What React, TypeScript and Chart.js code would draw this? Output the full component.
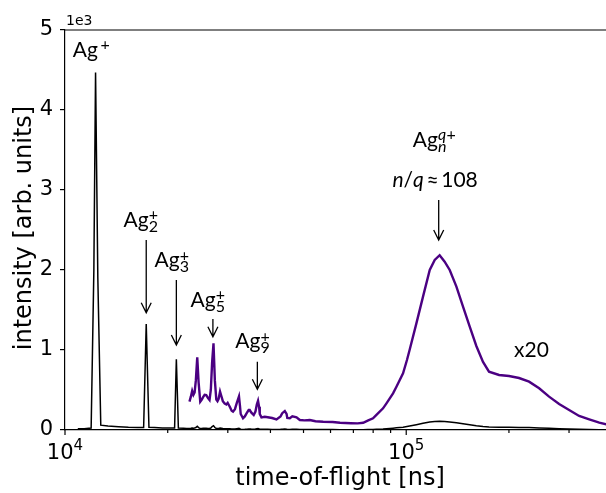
import React, { useEffect, useRef } from 'react';
import { Chart, registerables } from 'chart.js';

Chart.register(...registerables);

// ---- data ----
// full-scale spectrum, early part (time-of-flight in ns, intensity)
const rawTof = [10900, 11380, 11930, 12150, 12290, 12480, 12730, 13360, 14350, 15340, 16320, 17000, 17300, 17620, 18290, 19280, 20260, 20950, 21200, 21490, 22230, 22720];
const rawIntensity = [15, 15, 25, 2000, 4470, 1900, 60, 50, 42, 35, 32, 30, 1325, 35, 30, 25, 25, 25, 885, 25, 22, 20];

// magnified part (already multiplied by ZOOM_FACTOR as shown in purple)
const zoomTof = [23160, 23390, 23590, 23790, 23980, 24180, 24410, 24630, 24910, 25170, 25390, 25660, 25940, 26250, 26520, 26750, 26990, 27240, 27490, 27760, 27980, 28200, 28470, 28720, 29010, 29370, 29710, 29970, 30400, 30790, 31070, 31480, 31880, 32350, 32570, 32730, 33240, 33650, 34080, 34540, 34780, 35130, 35730, 36150, 36500, 36790, 37050, 37220, 37650, 38480, 39280, 40450, 41660, 42820, 43320, 44070, 44600, 44820, 45590, 46370, 47700, 48780, 50300, 52170, 54200, 57100, 60860, 63970, 68880, 72050, 74780, 77120, 79930, 81790, 85530, 87520, 91490, 93610, 97880, 100500, 102300, 107100, 112000, 117200, 121200, 125300, 129600, 134100, 140300, 146700, 153500, 160500, 167900, 174800, 187100, 200100, 214100, 229100, 245200, 262200, 280600, 300200, 321200, 343800, 367900, 387000];
const zoomIntensity = [354, 420, 490, 440, 470, 620, 910, 600, 354, 380, 410, 440, 437, 400, 375, 500, 850, 1083, 620, 380, 360, 390, 480, 425, 360, 330, 320, 340, 290, 240, 229, 260, 340, 420, 300, 200, 146, 170, 210, 250, 250, 220, 187, 230, 320, 366, 290, 200, 158, 165, 160, 150, 133, 170, 210, 237, 200, 150, 146, 170, 158, 125, 120, 125, 110, 104, 100, 90, 85, 83, 90, 117, 146, 190, 271, 333, 458, 540, 708, 875, 1000, 1333, 1667, 2000, 2125, 2185, 2104, 2000, 1792, 1542, 1292, 1050, 850, 729, 688, 675, 650, 604, 521, 417, 325, 250, 175, 133, 92, 71];
const ZOOM_FACTOR = 20;

// axis ranges / ticks
const X_MIN = 10000;
const X_MAX = 385000;
const Y_MIN = 0;
const Y_MAX = 5000;
const Y_STEP = 1000;
const Y_OFFSET_TEXT = '1e3';

// cluster labels (left edge tof, baseline intensity, subscript)
const clusterLabelTof = [10540, 14846, 18300, 23335, 31560];
const clusterLabelY = [4666, 2541, 2034, 1541, 1021];
const clusterLabelSub = ['', '2', '3', '5', '9'];

// arrows (tof, start intensity, tip intensity)
const arrowTof = [17300, 21200, 27130, 36620, 124500];
const arrowFrom = [2375, 1875, 1388, 854, 2875];
const arrowTo = [1466, 1063, 1166, 509, 2375];

// big-cluster labels
const bigLabelTof = 104500;
const bigLabelY = 3541;
const nqLabelTof = 91100;
const nqLabelY = 3034;
const zoomLabelTof = 207100;
const zoomLabelY = 909;

const PURPLE = '#4b0082';
const ANNOT_FONT = 'Lato';
const AXIS_FONT = '"DejaVu Sans"';
const SCRIPT = 16;

function drawArrow(ctx: CanvasRenderingContext2D, x: number, y0: number, y1: number) {
  ctx.beginPath();
  ctx.moveTo(x, y0);
  ctx.lineTo(x, y1);
  ctx.moveTo(x - 5, y1 - 10);
  ctx.lineTo(x, y1);
  ctx.lineTo(x + 5, y1 - 10);
  ctx.stroke();
}

const decorPlugin = {
  id: 'decor',
  afterDraw(chart: any) {
    const { ctx, chartArea, scales } = chart;
    const xs = scales.x;
    const ys = scales.y;
    ctx.save();
    ctx.strokeStyle = '#000';
    ctx.fillStyle = '#000';
    ctx.lineWidth = 1.2;
    // top spine
    ctx.beginPath();
    ctx.moveTo(chartArea.left, chartArea.top);
    ctx.lineTo(chartArea.right, chartArea.top);
    ctx.stroke();

    // x ticks (major / minor) and labels
    for (const tk of xs.ticks) {
      const v = tk.value;
      const e = Math.floor(Math.log10(v) + 1e-9);
      const m = Math.round(v / Math.pow(10, e));
      if (Math.abs(v - m * Math.pow(10, e)) > 1e-6 * v) continue;
      const px = xs.getPixelForValue(v);
      if (px < chartArea.left - 1 || px > chartArea.right) continue;
      const len = m === 1 ? 5 : 3;
      ctx.beginPath();
      ctx.moveTo(px, chartArea.bottom);
      ctx.lineTo(px, chartArea.bottom + len);
      ctx.stroke();
      if (m === 1) {
        ctx.font = `21px ${AXIS_FONT}`;
        const w1 = ctx.measureText('10').width;
        ctx.font = `15px ${AXIS_FONT}`;
        const es = String(e);
        const w2 = ctx.measureText(es).width;
        const start = px - (w1 + w2) / 2;
        ctx.textAlign = 'left';
        ctx.textBaseline = 'alphabetic';
        ctx.font = `21px ${AXIS_FONT}`;
        ctx.fillText('10', start, 459);
        ctx.font = `15px ${AXIS_FONT}`;
        ctx.fillText(es, start + w1, 450);
      }
    }

    // offset text
    ctx.font = `14px ${AXIS_FONT}`;
    ctx.textAlign = 'left';
    ctx.textBaseline = 'alphabetic';
    ctx.fillText(Y_OFFSET_TEXT, chartArea.left + 1, chartArea.top - 5);

    // axis titles
    ctx.font = `24px ${AXIS_FONT}`;
    ctx.textAlign = 'center';
    ctx.fillText('time-of-flight [ns]', 340, 485);
    ctx.save();
    ctx.translate(31, (chartArea.top + chartArea.bottom) / 2 - 2);
    ctx.rotate(-Math.PI / 2);
    ctx.fillText('intensity [arb. units]', 0, 0);
    ctx.restore();

    // cluster labels
    ctx.textAlign = 'left';
    for (let i = 0; i < clusterLabelTof.length; i++) {
      const x = xs.getPixelForValue(clusterLabelTof[i]);
      const y = ys.getPixelForValue(clusterLabelY[i]);
      ctx.font = `21px ${ANNOT_FONT}`;
      ctx.fillText('Ag', x, y);
      let cx = x + ctx.measureText('Ag').width;
      ctx.font = `${SCRIPT}px ${ANNOT_FONT}`;
      if (clusterLabelSub[i]) {
        ctx.fillText(clusterLabelSub[i], cx, y + 5);
      } else {
        cx += 2.5;
      }
      ctx.fillText('+', cx, y - 6.5);
    }

    // Ag_n^{q+}
    {
      const x = xs.getPixelForValue(bigLabelTof);
      const y = ys.getPixelForValue(bigLabelY);
      ctx.font = `21px ${ANNOT_FONT}`;
      ctx.fillText('Ag', x, y);
      const cx = x + ctx.measureText('Ag').width;
      ctx.font = `italic ${SCRIPT}px ${ANNOT_FONT}`;
      ctx.fillText('n', cx, y + 5);
      ctx.fillText('q', cx, y - 6.5);
      const qw = ctx.measureText('q').width;
      ctx.font = `${SCRIPT}px ${ANNOT_FONT}`;
      ctx.fillText('+', cx + qw + 0.5, y - 6.5);
    }
    // n/q ≈ 108
    {
      let x = xs.getPixelForValue(nqLabelTof);
      const y = ys.getPixelForValue(nqLabelY);
      const parts: [string, boolean][] = [['n', true], ['/', false], ['q', true], ['\u2009≈\u2009', false], ['108', false]];
      for (const [t, it] of parts) {
        ctx.font = `${it ? 'italic ' : ''}21px ${ANNOT_FONT}`;
        ctx.fillText(t, x, y);
        x += ctx.measureText(t).width;
      }
    }
    // x20
    ctx.font = `21px ${ANNOT_FONT}`;
    ctx.fillText('x20', xs.getPixelForValue(zoomLabelTof), ys.getPixelForValue(zoomLabelY));

    // arrows
    ctx.lineWidth = 1.3;
    for (let i = 0; i < arrowTof.length; i++) {
      drawArrow(ctx, xs.getPixelForValue(arrowTof[i]), ys.getPixelForValue(arrowFrom[i]), ys.getPixelForValue(arrowTo[i]));
    }
    ctx.restore();
  },
};

export default function App() {
  const ref = useRef<HTMLCanvasElement | null>(null);
  useEffect(() => {
    if (!ref.current) return;
    const fullData = rawTof
      .map((t, i) => ({ x: t, y: rawIntensity[i] }))
      .concat(zoomTof.map((t, i) => ({ x: t, y: zoomIntensity[i] / ZOOM_FACTOR })));
    const zoomData = zoomTof.map((t, i) => ({ x: t, y: zoomIntensity[i] }));
    const chart = new Chart(ref.current, {
      type: 'line',
      data: {
        datasets: [
          { label: 'x20', data: zoomData, borderColor: PURPLE, borderWidth: 2.4, pointRadius: 0, tension: 0, fill: false },
          { label: 'spectrum', data: fullData, borderColor: '#000', borderWidth: 1.5, pointRadius: 0, tension: 0, fill: false },
        ],
      },
      options: {
        animation: false,
        responsive: false,
        devicePixelRatio: 1,
        parsing: false as any,
        layout: { padding: { top: 30, right: 0, bottom: 0, left: 0 } },
        plugins: { legend: { display: false }, tooltip: { enabled: false }, title: { display: false } },
        scales: {
          x: {
            type: 'logarithmic',
            min: X_MIN,
            max: X_MAX,
            grid: { display: false },
            border: { display: true, color: '#000', width: 1.2 },
            ticks: { display: false },
            afterFit: (s: any) => { s.height = 63; },
          },
          y: {
            type: 'linear',
            min: Y_MIN,
            max: Y_MAX,
            grid: { display: true, drawOnChartArea: false, drawTicks: true, tickLength: 5, color: '#000', lineWidth: 1.2 },
            border: { display: true, color: '#000', width: 1.2 },
            ticks: {
              stepSize: Y_STEP,
              padding: 7,
              color: '#000',
              font: { family: 'DejaVu Sans', size: 21 },
              callback: (v: any) => String(Number(v) / 1000),
            },
            afterFit: (s: any) => { s.width = 65; },
          },
        },
      },
      plugins: [decorPlugin],
    });
    return () => chart.destroy();
  }, []);
  return (
    <div style={{ position: 'fixed', left: 0, top: 0, width: 606, height: 493, background: '#fff' }}>
      <canvas ref={ref} width={606} height={493} style={{ width: 606, height: 493, display: 'block' }} />
    </div>
  );
}
